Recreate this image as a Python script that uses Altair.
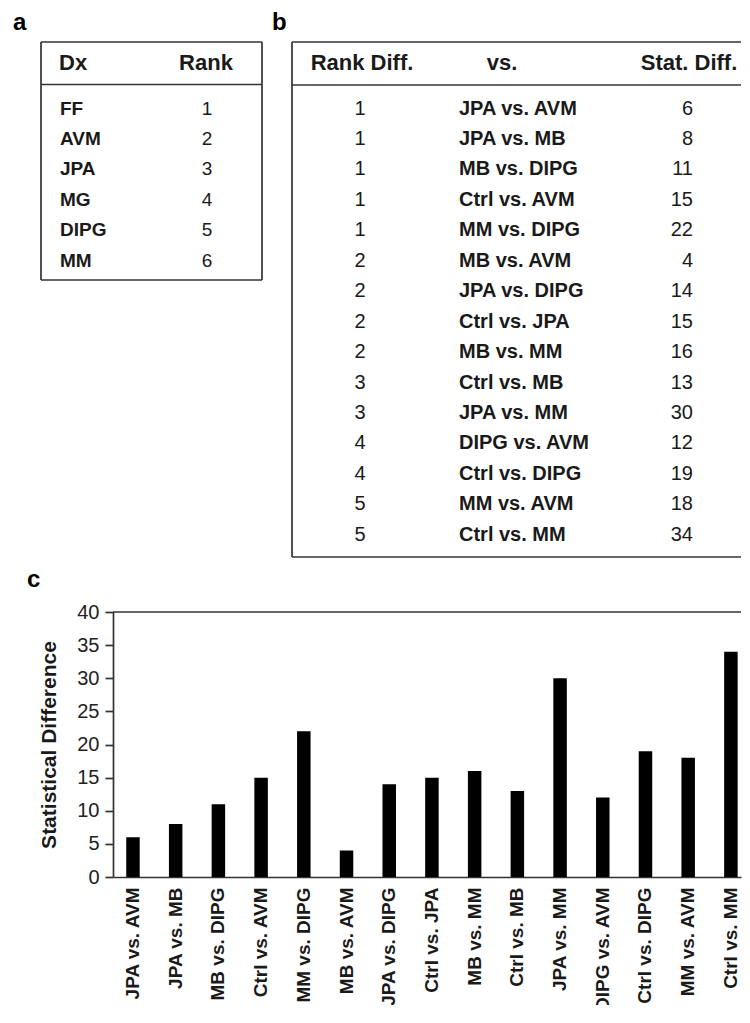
import altair as alt
import pandas as pd

FONT = "Liberation Sans"
INK = "#1a1a1a"
LINE = "#333333"

# ---- data ----
panel_labels = ["a", "b", "c"]
headers_a = ["Dx", "Rank"]
dx_names = ["FF", "AVM", "JPA", "MG", "DIPG", "MM"]
dx_ranks = [1, 2, 3, 4, 5, 6]

headers_b = ["Rank Diff.", "vs.", "Stat. Diff."]
rank_diffs = [1, 1, 1, 1, 1, 2, 2, 2, 2, 3, 3, 4, 4, 5, 5]
comparisons = ["JPA vs. AVM", "JPA vs. MB", "MB vs. DIPG", "Ctrl vs. AVM", "MM vs. DIPG",
               "MB vs. AVM", "JPA vs. DIPG", "Ctrl vs. JPA", "MB vs. MM", "Ctrl vs. MB",
               "JPA vs. MM", "DIPG vs. AVM", "Ctrl vs. DIPG", "MM vs. AVM", "Ctrl vs. MM"]
stat_diffs = [6, 8, 11, 15, 22, 4, 14, 15, 16, 13, 30, 12, 19, 18, 34]

y_title = "Statistical Difference"
y_ticks = [0, 5, 10, 15, 20, 25, 30, 35, 40]

# ---- tables (drawn in a panel whose origin is aligned with the bar chart's plot) ----
dfa = pd.DataFrame({"row": list(range(1, len(dx_names) + 1)), "dx": dx_names, "rank": dx_ranks})
dfb = pd.DataFrame({"row": list(range(1, len(comparisons) + 1)), "rd": rank_diffs,
                    "vs": comparisons, "sd": stat_diffs})
one = pd.DataFrame({"k": [0]})

TW, TH = 628, 515
row_scale = alt.Scale(domain=[-1.184, 15.729], reverse=True, nice=False, zero=False)
ya = alt.Y("row:Q", scale=row_scale, axis=None)
body_a = dict(font=FONT, fontSize=19, color=INK, baseline="middle")
body_b = dict(font=FONT, fontSize=20, color=INK, baseline="middle")
head = dict(font=FONT, fontSize=22, fontWeight="bold", color=INK, baseline="middle")


def hline(x1, x2, y):
    return alt.Chart(one).mark_rule(color=LINE, strokeWidth=1.7).encode(
        x=alt.value(x1), x2=alt.value(x2), y=alt.value(y))


def vline(x, y1, y2):
    return alt.Chart(one).mark_rule(color=LINE, strokeWidth=1.7).encode(
        x=alt.value(x), y=alt.value(y1), y2=alt.value(y2))


def label(txt, x, y):
    return alt.Chart(one).mark_text(text=txt, font=FONT, fontSize=24, fontWeight="bold",
                                    align="left", baseline="alphabetic", color="black").encode(
        x=alt.value(x), y=alt.value(y))


def header(txt, x, align="center"):
    return alt.Chart(one).mark_text(text=txt, align=align, **head).encode(
        x=alt.value(x), y=alt.value(21))


a_dx = alt.Chart(dfa).mark_text(align="left", fontWeight="bold", **body_a).encode(
    x=alt.value(-53), y=ya, text="dx:N")
a_rank = alt.Chart(dfa).mark_text(align="center", **body_a).encode(
    x=alt.value(94), y=ya, text="rank:Q")
b_rd = alt.Chart(dfb).mark_text(align="center", **body_b).encode(
    x=alt.value(247), y=ya, text="rd:Q")
b_vs = alt.Chart(dfb).mark_text(align="left", fontWeight="bold", **body_b).encode(
    x=alt.value(346), y=ya, text="vs:N")
b_sd = alt.Chart(dfb).mark_text(align="right", **body_b).encode(
    x=alt.value(580), y=ya, text="sd:Q")

AX0, AX1, AH = -72, 149, 238
BX = 179
top = alt.layer(
    a_dx, a_rank, b_rd, b_vs, b_sd,
    header(headers_a[0], -54, "left"), header(headers_a[1], 93),
    header(headers_b[0], 249), header(headers_b[1], 389), header(headers_b[2], 576),
    hline(AX0, AX1, 0), hline(AX0, AX1, 42.5), hline(AX0, AX1, AH),
    vline(AX0, 0, AH), vline(AX1, 0, AH),
    hline(BX, TW, 0), hline(BX, TW, 43), hline(BX, TW, TH), vline(BX, 0, TH),
    label(panel_labels[0], -100, -12), label(panel_labels[1], 159, -12),
).properties(width=TW, height=TH)

# ---- bar chart ----
dfc = pd.DataFrame({"cmp": comparisons, "val": stat_diffs})
CW, CH = 628, 265
bars = alt.Chart(dfc).mark_bar(color="black").encode(
    x=alt.X("cmp:N", sort=None,
            scale=alt.Scale(paddingInner=0.684, paddingOuter=0.194, align=0.798),
            axis=alt.Axis(title=None, labelAngle=-90, labelFont=FONT, labelFontSize=19,
                          labelFontWeight="bold", labelColor=INK, labelPadding=10,
                          ticks=False, tickSize=0, domainColor=LINE, domainWidth=1.7,
                          labelOverlap=False, labelLimit=300)),
    y=alt.Y("val:Q", scale=alt.Scale(domain=[0, 40], nice=False),
            axis=alt.Axis(values=y_ticks, title=y_title, titleFont=FONT, titleFontSize=21,
                          titleFontWeight="bold", titleColor=INK, titlePadding=17,
                          labelFont=FONT, labelFontSize=20, labelColor="#222",
                          labelPadding=6, tickSize=8, tickColor=LINE, tickWidth=1.7,
                          domainColor=LINE, domainWidth=1.7, grid=False)),
)
top_line = alt.Chart(one).mark_rule(color=LINE, strokeWidth=1.7).encode(
    x=alt.value(0), x2=alt.value(CW), y=alt.value(0))
bottom = alt.layer(bars, top_line, label(panel_labels[2], -86, -25)).properties(
    width=CW, height=CH)

# the longest rotated label runs past the page bottom in the reference; a small
# negative bottom padding trims it there so the page keeps its 750x1023 size
chart = alt.vconcat(top, bottom, spacing=10).properties(
    padding={"left": 5, "top": 3, "right": 0, "bottom": -7}
).configure_view(stroke=None)

chart.save("out.html", embed_options={"renderer": "svg", "actions": False})
